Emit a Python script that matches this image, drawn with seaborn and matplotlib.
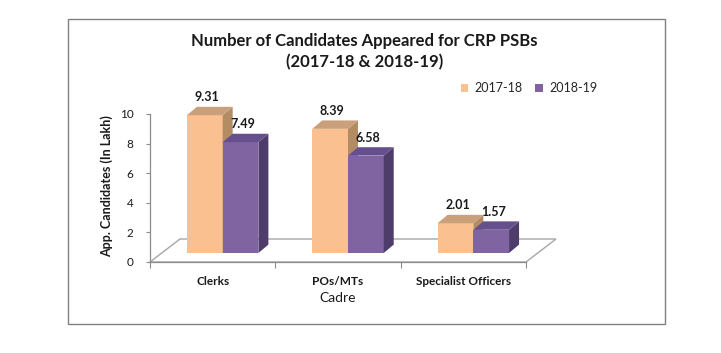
import matplotlib
matplotlib.use("Agg")
import matplotlib.pyplot as plt
from matplotlib.patches import Polygon, Rectangle
import seaborn as sns
import pandas as pd

# ---- data ----
categories = ["Clerks", "POs/MTs", "Specialist Officers"]
series_names = ["2017-18", "2018-19"]
values_2017_18 = [9.31, 8.39, 2.01]
values_2018_19 = [7.49, 6.58, 1.57]
y_ticks = [0, 2, 4, 6, 8, 10]

front_colors = ["#FAC090", "#8064A2"]
top_colors = ["#C9A07A", "#654F8C"]
side_colors = ["#B48C64", "#4E3C6A"]

df = pd.DataFrame({
    "Cadre": categories * 2,
    "Series": [series_names[0]] * 3 + [series_names[1]] * 3,
    "Value": values_2017_18 + values_2018_19,
})

sns.set_theme(style="white")
plt.rcParams["font.family"] = ["Lato", "DejaVu Sans"]

W, H = 721, 353
fig = plt.figure(figsize=(W / 100, H / 100), dpi=100)
ax = fig.add_axes([150 / W, 1 - 262 / H, 376 / W, 148 / H])

sns.barplot(data=df, x="Cadre", y="Value", hue="Series", order=categories,
            hue_order=series_names, palette=front_colors, saturation=1,
            width=0.57, ax=ax, legend=True, edgecolor="none", linewidth=0)

ax.set_xlim(-0.5, 2.5)
ax.set_ylim(0, 10)
ppx = ax.bbox.width / 3.0
ppy = ax.bbox.height / 10.0

# bar shift (mid-depth of the floor) and 3D depth, in pixels -> data units
sx, sy = 10 / ppx, 9 / ppy
ddx, ddy = 10 / ppx, 8.4 / ppy
fdx, fdy = 30 / ppx, 23 / ppy

# floor
floor = Polygon([(-0.5, 0), (2.5, 0), (2.5 + fdx, fdy), (-0.5 + fdx, fdy)],
                closed=True, facecolor="white", edgecolor="#A6A6A6",
                linewidth=1.0, zorder=0.5, clip_on=False)
ax.add_patch(floor)

for k, cont in enumerate(ax.containers):
    base_z = 2 + 2 * k
    for bar in cont.patches:
        x0 = bar.get_x() + sx
        w = bar.get_width()
        h = bar.get_height()
        bar.set_x(x0)
        bar.set_y(sy)
        bar.set_zorder(base_z)
        bar.set_clip_on(False)
        y0 = sy
        y1 = sy + h
        side = Polygon([(x0 + w, y0), (x0 + w + ddx, y0 + ddy),
                        (x0 + w + ddx, y1 + ddy), (x0 + w, y1)],
                       closed=True, facecolor=side_colors[k], edgecolor="none",
                       zorder=base_z + 0.5, clip_on=False)
        top = Polygon([(x0, y1), (x0 + ddx, y1 + ddy), (x0 + w + ddx, y1 + ddy),
                       (x0 + w, y1)],
                      closed=True, facecolor=top_colors[k], edgecolor="none",
                      zorder=base_z + 0.5, clip_on=False)
        ax.add_patch(side)
        ax.add_patch(top)
        ax.annotate(f"{h:.2f}", xy=(x0 + w / 2, y1), xytext=(2, 18),
                    textcoords="offset pixels", ha="center", va="center",
                    fontsize=9, fontweight="bold", color="#1a1a1a",
                    zorder=10, annotation_clip=False)

# axes styling
for s in ["top", "right"]:
    ax.spines[s].set_visible(False)
for s in ["left", "bottom"]:
    ax.spines[s].set_color("#8C8C8C")
    ax.spines[s].set_linewidth(0.9)
    ax.spines[s].set_zorder(0.6)

ax.set_yticks(y_ticks)
ax.set_yticklabels([str(t) for t in y_ticks], fontsize=8.5, color="#1a1a1a")
ax.tick_params(axis="y", which="major", left=True, length=3, width=0.8,
               color="#8C8C8C", pad=9)
ax.set_xticks(range(len(categories)))
ax.set_xticklabels(categories, fontsize=8.5, fontweight="bold", color="#1a1a1a")
ax.set_xticks([-0.5, 0.5, 1.5, 2.5], minor=True)
ax.tick_params(axis="x", which="major", bottom=False, length=0, pad=10)
ax.tick_params(axis="x", which="minor", bottom=True, length=4, width=0.8,
               color="#8C8C8C")

ax.set_xlabel("Cadre", fontsize=10, color="#1a1a1a", labelpad=4)
ax.set_ylabel("App. Candidates (In Lakh)", fontsize=9, fontweight="bold",
              color="#1a1a1a")
ax.yaxis.set_label_coords(-0.098, 0.51)

# legend
handles, labels = ax.get_legend_handles_labels()
ax.legend(handles, labels, loc="center", bbox_to_anchor=(529 / W, 1 - 88 / H),
          bbox_transform=fig.transFigure, ncol=2, frameon=False, fontsize=9,
          handlelength=0.6, handleheight=0.6, handletextpad=0.5,
          columnspacing=1.0)

# title
fig.text(364.5 / W, 1 - 51.7 / H,
         "Number of Candidates Appeared for CRP PSBs\n(2017-18 & 2018-19)",
         ha="center", va="center", fontsize=12, fontweight="bold",
         color="#1a1a1a", linespacing=1.35)

# outer frame
fig.patches.append(Rectangle((67.5 / W, 1 - 323.5 / H), (664.5 - 67.5) / W,
                             (323.5 - 19) / H, transform=fig.transFigure,
                             fill=False, edgecolor="#808080", linewidth=1.0))

fig.savefig("out.png", dpi=100, facecolor="white")
